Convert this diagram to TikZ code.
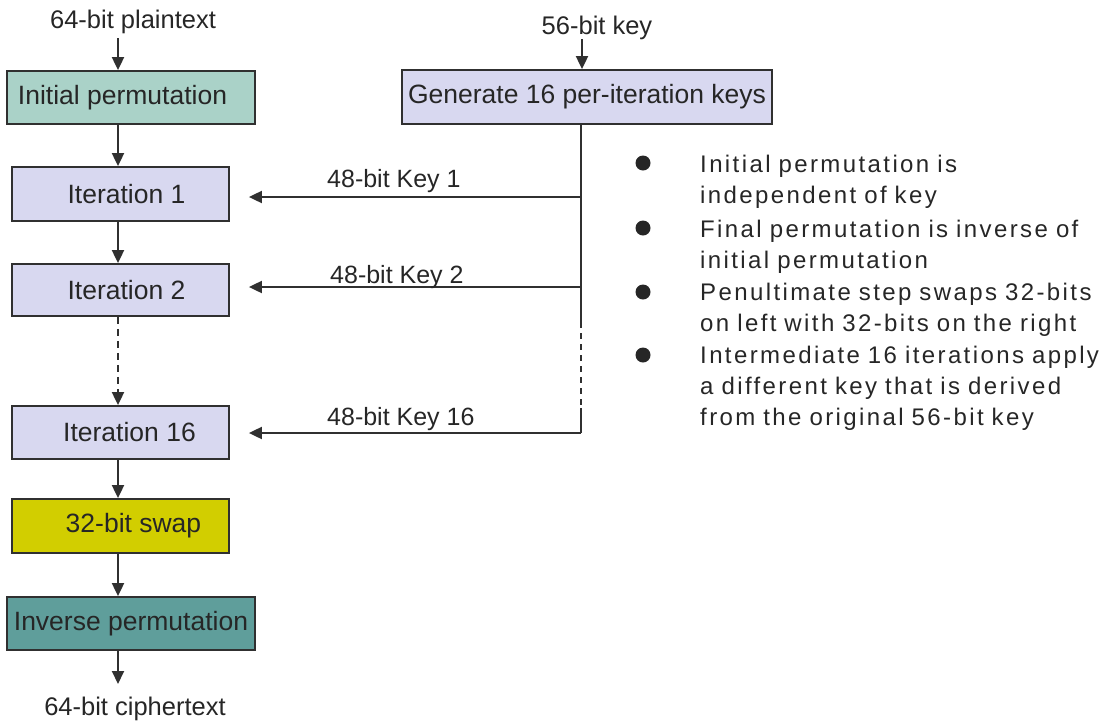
\documentclass[tikz,border=0pt]{standalone}
\usepackage{fontspec}
\setmainfont{Liberation Sans}
\usetikzlibrary{arrows.meta}

\definecolor{ink}{HTML}{262626}
\definecolor{edge}{HTML}{303030}
\definecolor{permfill}{HTML}{AAD2C8}
\definecolor{iterfill}{HTML}{D8D8F0}
\definecolor{swapfill}{HTML}{D2CE00}
\definecolor{invfill}{HTML}{5F9E9B}

\tikzset{
  box/.style={draw=edge, line width=1.8pt, inner sep=0pt, text=ink,
    font=\fontsize{26.5}{30}\selectfont, anchor=center},
  plain/.style={inner sep=0pt, text=ink, font=\fontsize{25.5}{30}\selectfont},
  keylab/.style={inner sep=0pt, text=ink, font=\fontsize{25}{30}\selectfont, anchor=base west},
  note/.style={inner sep=0pt, text=ink, anchor=base west, text width=430pt, align=left,
    font=\fontsize{24}{31}\selectfont\addfontfeatures{LetterSpace=10}},
  link/.style={draw=edge, line width=1.9pt},
  arr/.style={link, -{Triangle[length=13pt,width=12pt]}},
}

\begin{document}
\begin{tikzpicture}[x=1pt,y=-1pt]
\useasboundingbox (0,0) rectangle (1112,721);

% main data path
\node[plain, anchor=base] (ptxt) at (133,28) {64-bit plaintext};
\node[box, fill=permfill, minimum width=248pt, minimum height=53pt] (init) at (131,97.5) {\hspace*{-17pt}Initial permutation};
\node[box, fill=iterfill, minimum width=217pt, minimum height=54pt] (it1) at (120.5,194) {\hspace*{12pt}Iteration 1};
\node[box, fill=iterfill, minimum width=217pt, minimum height=52pt] (it2) at (120.5,290) {\hspace*{12pt}Iteration 2};
\node[box, fill=iterfill, minimum width=217pt, minimum height=53pt] (it16) at (120.5,432.5) {\hspace*{18pt}Iteration 16};
\node[box, fill=swapfill, minimum width=217pt, minimum height=54pt] (swap) at (120.5,526) {\hspace*{26pt}32-bit swap};
\node[box, fill=invfill, minimum width=248pt, minimum height=53pt] (inv) at (131,623.5) {Inverse permutation};
\node[plain, anchor=base] (ctxt) at (135,715) {64-bit ciphertext};

\coordinate (spine) at (118,0);
\coordinate (inA) at (118,38);
\coordinate (outA) at (118,684);

\draw[arr] (inA) -- (init.north -| spine);
\draw[arr] (init.south -| spine) -- (it1.north -| spine);
\draw[arr] (it1.south -| spine) -- (it2.north -| spine);
\draw[arr, dash pattern=on 7pt off 5pt] (it2.south -| spine) -- (it16.north -| spine);
\draw[arr] (it16.south -| spine) -- (swap.north -| spine);
\draw[arr] (swap.south -| spine) -- (inv.north -| spine);
\draw[arr] (inv.south -| spine) -- (outA);

% key schedule
\node[plain, anchor=base] (key) at (597,34) {56-bit key};
\node[box, fill=iterfill, minimum width=370pt, minimum height=54pt] (gen) at (587,97) {Generate 16 per-iteration keys};

\coordinate (kin) at (582,39);
\coordinate (j1) at (581,197);
\coordinate (j2) at (581,287);
\coordinate (jd1) at (581,322);
\coordinate (jd2) at (581,408);
\coordinate (j16) at (581,433);

\draw[arr] (kin) -- (gen.north -| kin);
\draw[link] (gen.south -| j1) -- (j1) -- (j2) -- (jd1);
\draw[link, dash pattern=on 6pt off 5pt] (jd1) -- (jd2);
\draw[link] (jd2) -- (j16);

\draw[arr, shorten >=19pt] (j1) -- (j1 -| it1.east);
\draw[arr, shorten >=19pt] (j2) -- (j2 -| it2.east);
\draw[arr, shorten >=19pt] (j16) -- (j16 -| it16.east);

\node[keylab] (k1lab) at (327,187) {48-bit Key 1};
\node[keylab] (k2lab) at (330,283) {48-bit Key 2};
\node[keylab] (k16lab) at (327,425) {48-bit Key 16};

% notes
\fill[ink] (643,163) circle (7.5pt);
\fill[ink] (643,228) circle (7.5pt);
\fill[ink] (643,292) circle (7.5pt);
\fill[ink] (643,355) circle (7.5pt);

\node[note] (n1) at (700,172) {Initial permutation is\\independent of key};
\node[note] (n2) at (700,237) {Final permutation is inverse of\\initial permutation};
\node[note] (n3) at (700,300) {Penultimate step swaps 32-bits\\on left with 32-bits on the right};
\node[note] (n4) at (700,363) {Intermediate 16 iterations apply\\a different key that is derived\\from the original 56-bit key};
\end{tikzpicture}
\end{document}
